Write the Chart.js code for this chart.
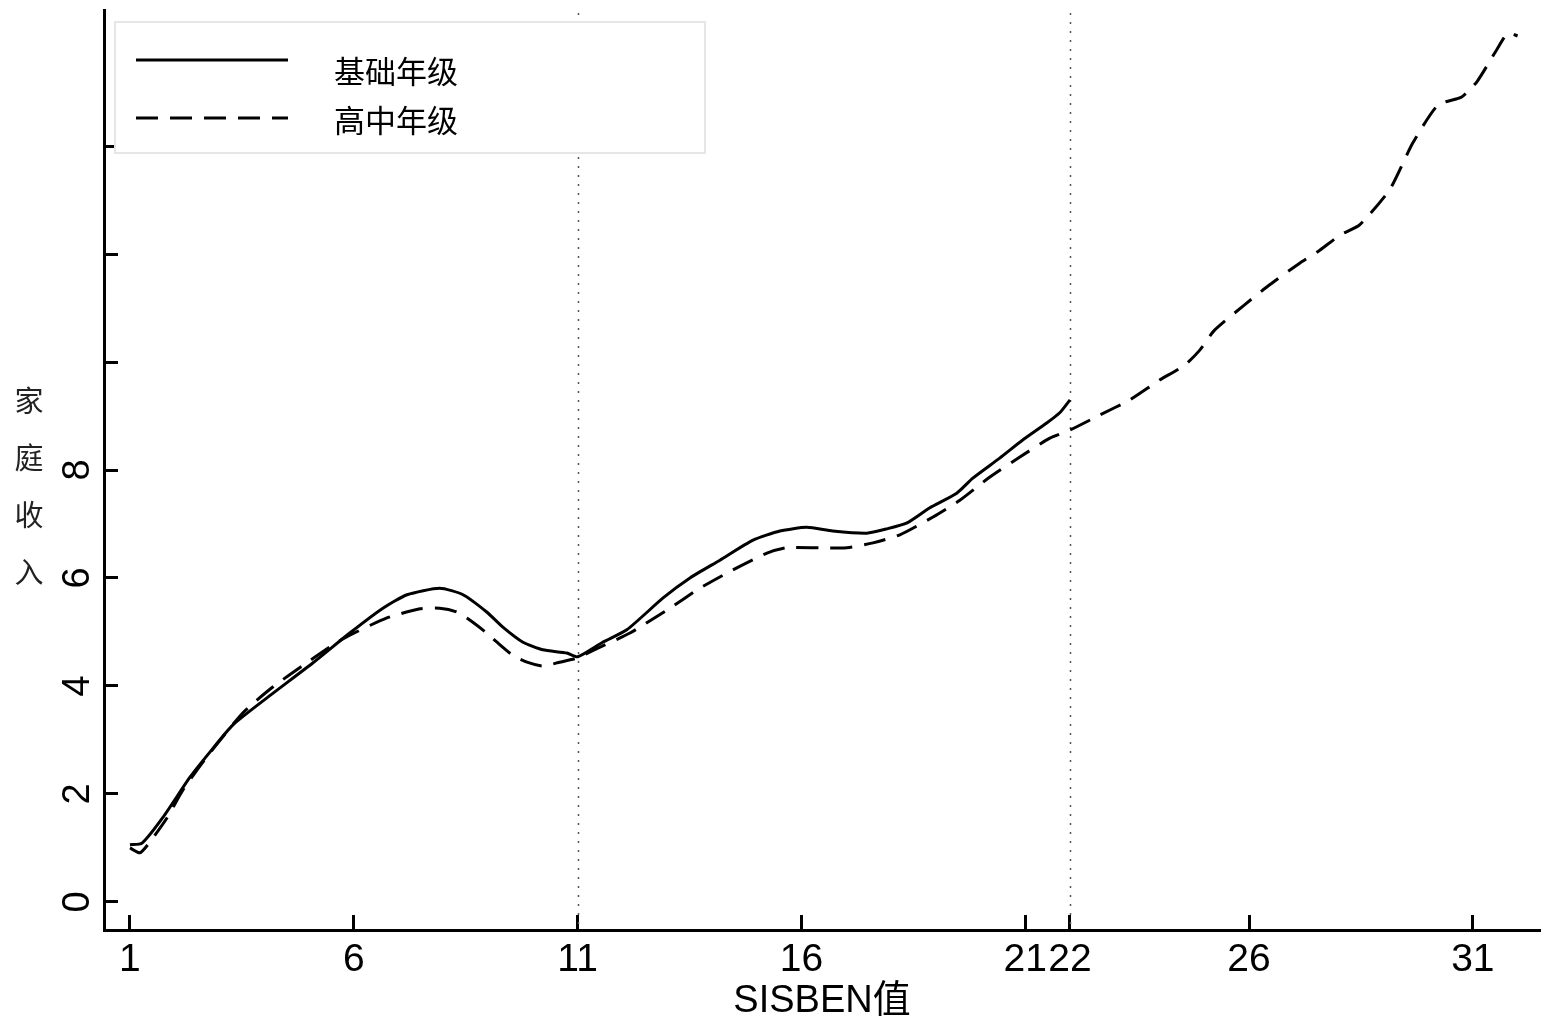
<!DOCTYPE html>
<html lang="zh">
<head>
<meta charset="UTF-8">
<title>家庭收入与SISBEN值</title>
<script src="https://cdn.jsdelivr.net/npm/chart.js"></script>
<style>
  html, body { margin: 0; padding: 0; background: #fff; }
  #wrap { width: 1546px; height: 1022px; }
</style>
</head>
<body>
<div id="wrap"><canvas id="chart" width="1546" height="1022"></canvas></div>
<script>
// 基础年级: SISBEN值 -> 家庭收入
const basicX = [1.00, 1.27, 1.74, 2.34, 2.79, 3.30, 4.06, 5.09, 5.91, 6.65, 7.19, 7.92, 8.44, 8.97, 9.33, 9.78,
  10.22, 10.76, 11.00, 11.56, 12.10, 12.91, 13.51, 14.18, 14.92, 15.52, 16.12, 16.70, 17.46, 17.91, 18.36,
  18.87, 19.47, 19.83, 20.43, 20.95, 21.48, 21.77, 22.00];
const basicY = [1.06, 1.09, 1.57, 2.31, 2.78, 3.28, 3.78, 4.43, 4.98, 5.44, 5.69, 5.81, 5.69, 5.37, 5.09, 4.81,
  4.67, 4.61, 4.54, 4.81, 5.04, 5.63, 6.00, 6.33, 6.70, 6.87, 6.94, 6.87, 6.83, 6.91, 7.02,
  7.30, 7.57, 7.85, 8.22, 8.56, 8.87, 9.06, 9.30];

// 高中年级
const highX = [1.00, 1.22, 1.40, 1.83, 2.18, 2.72, 3.52, 4.19, 4.95, 5.53, 5.91, 6.74, 7.48, 7.92, 8.30, 8.59,
  8.97, 9.20, 9.55, 9.87, 10.22, 10.60, 11.00, 11.50, 12.17, 13.06, 13.73, 14.47, 15.23, 15.67, 16.41,
  17.02, 17.60, 18.20, 18.94, 19.54, 20.21, 20.88, 21.55, 22.00, 22.67, 23.34, 24.01, 24.56, 24.90,
  25.23, 25.90, 26.46, 27.13, 27.58, 28.03, 28.47, 29.14, 29.66, 30.22, 30.75, 31.09, 31.53, 31.78, 32.00];
const highY = [1.00, 0.91, 1.06, 1.56, 2.07, 2.69, 3.50, 3.98, 4.43, 4.76, 4.94, 5.26, 5.43, 5.44, 5.37, 5.22,
  4.98, 4.81, 4.57, 4.44, 4.37, 4.44, 4.52, 4.72, 4.98, 5.44, 5.81, 6.15, 6.46, 6.56, 6.56,
  6.56, 6.65, 6.80, 7.13, 7.44, 7.87, 8.24, 8.59, 8.74, 9.02, 9.30, 9.67, 9.94, 10.22,
  10.59, 11.06, 11.43, 11.83, 12.07, 12.35, 12.54, 13.19, 14.06, 14.76, 14.91, 15.19, 15.78, 16.09, 16.04];

const seriesNames = ['基础年级', '高中年级'];
const xTicks = [1, 6, 11, 16, 21, 22, 26, 31];
const yTicks = [0, 2, 4, 6, 8, 10, 12, 14];
const yLabelMax = 8;          // 更高的刻度标签在原图中被裁掉
const cutoffs = [11, 22];
const xTitle = 'SISBEN值';
const yTitle = '家庭收入';

Chart.defaults.font.family = "'Liberation Sans', Arial, 'Noto Sans CJK SC', sans-serif";
Chart.defaults.color = '#000';

const toPoints = (xs, ys) => xs.map((x, i) => ({x: x, y: ys[i]}));

// 竖直点线 (x = 11, x = 22)
const cutoffPlugin = {
  id: 'cutoffs',
  beforeDatasetsDraw(chart) {
    const {ctx, chartArea, scales} = chart;
    ctx.save();
    ctx.strokeStyle = '#555';
    ctx.lineWidth = 1.5;
    ctx.setLineDash([2, 7]);
    cutoffs.forEach(v => {
      const px = Math.round(scales.x.getPixelForValue(v)) + 0.5;
      ctx.beginPath();
      ctx.moveTo(px, chartArea.top + 3);
      ctx.lineTo(px, chartArea.bottom);
      ctx.stroke();
    });
    ctx.restore();
  }
};

// 纵轴标题, 竖排
const yTitlePlugin = {
  id: 'yTitle',
  afterDraw(chart) {
    const ctx = chart.ctx;
    ctx.save();
    ctx.font = "29px 'Noto Sans CJK SC', sans-serif";
    ctx.fillStyle = '#222';
    ctx.textAlign = 'center';
    ctx.textBaseline = 'middle';
    Array.from(yTitle).forEach((ch, i) => {
      ctx.fillText(ch, 29, 401 + i * 57);
    });
    ctx.restore();
  }
};

// 图内图例
const legendPlugin = {
  id: 'boxLegend',
  afterDraw(chart) {
    const {ctx, chartArea} = chart;
    const bx = chartArea.left + 11, by = chartArea.top + 12;
    ctx.save();
    ctx.fillStyle = '#fff';
    ctx.fillRect(bx, by, 590, 131);
    ctx.strokeStyle = '#e6e6e6';
    ctx.lineWidth = 2;
    ctx.strokeRect(bx, by, 590, 131);
    const rows = [{lineY: 60, textY: 71}, {lineY: 118, textY: 120}];
    chart.data.datasets.forEach((ds, i) => {
      ctx.strokeStyle = ds.borderColor;
      ctx.lineWidth = 3;
      ctx.setLineDash(ds.borderDash || []);
      ctx.beginPath();
      ctx.moveTo(136, rows[i].lineY);
      ctx.lineTo(288, rows[i].lineY);
      ctx.stroke();
      ctx.setLineDash([]);
      ctx.fillStyle = '#000';
      ctx.font = "31px 'Noto Sans CJK SC', sans-serif";
      ctx.textAlign = 'left';
      ctx.textBaseline = 'middle';
      ctx.fillText(ds.label, 334, rows[i].textY);
    });
    ctx.restore();
  }
};

new Chart(document.getElementById('chart'), {
  type: 'line',
  data: {
    datasets: [
      {
        label: seriesNames[0],
        data: toPoints(basicX, basicY),
        borderColor: '#000',
        borderWidth: 3,
        pointRadius: 0,
        tension: 0.2,
        fill: false
      },
      {
        label: seriesNames[1],
        data: toPoints(highX, highY),
        borderColor: '#000',
        borderWidth: 3,
        borderDash: [22, 12],
        pointRadius: 0,
        tension: 0.2,
        fill: false
      }
    ]
  },
  options: {
    responsive: false,
    animation: false,
    devicePixelRatio: 1,
    layout: {padding: {top: 10, right: 6, left: 0, bottom: 0}},
    plugins: {legend: {display: false}, tooltip: {enabled: false}},
    scales: {
      x: {
        type: 'linear',
        min: 0.42,
        max: 32.5,
        afterBuildTicks: s => { s.ticks = xTicks.map(v => ({value: v})); },
        afterFit: s => { s.height = 92; s.paddingLeft = 0; s.paddingRight = 0; },
        grid: {drawOnChartArea: false, drawTicks: true, tickLength: -15, tickWidth: 3, tickColor: '#000'},
        border: {display: true, color: '#000', width: 3},
        ticks: {
          autoSkip: false,
          maxRotation: 0,
          padding: 26,
          font: {size: 39, lineHeight: 1},
          color: '#000',
          callback: v => String(v)
        },
        title: {
          display: true,
          text: xTitle,
          font: {size: 38, lineHeight: 1},
          color: '#000',
          padding: {top: 0, bottom: 1}
        }
      },
      y: {
        type: 'linear',
        min: -0.52,
        max: 16.52,
        afterBuildTicks: s => { s.ticks = yTicks.map(v => ({value: v})); },
        afterFit: s => { s.width = 104; s.paddingTop = 0; s.paddingBottom = 0; },
        grid: {drawOnChartArea: false, drawTicks: true, tickLength: -14, tickWidth: 3, tickColor: '#000'},
        border: {display: true, color: '#000', width: 3},
        ticks: {
          autoSkip: false,
          minRotation: 90,
          maxRotation: 90,
          crossAlign: 'center',
          padding: 29,
          font: {size: 38, lineHeight: 1},
          color: '#000',
          callback: v => (v <= yLabelMax ? String(v) : '')
        }
      }
    }
  },
  plugins: [cutoffPlugin, yTitlePlugin, legendPlugin]
});
</script>
</body>
</html>
